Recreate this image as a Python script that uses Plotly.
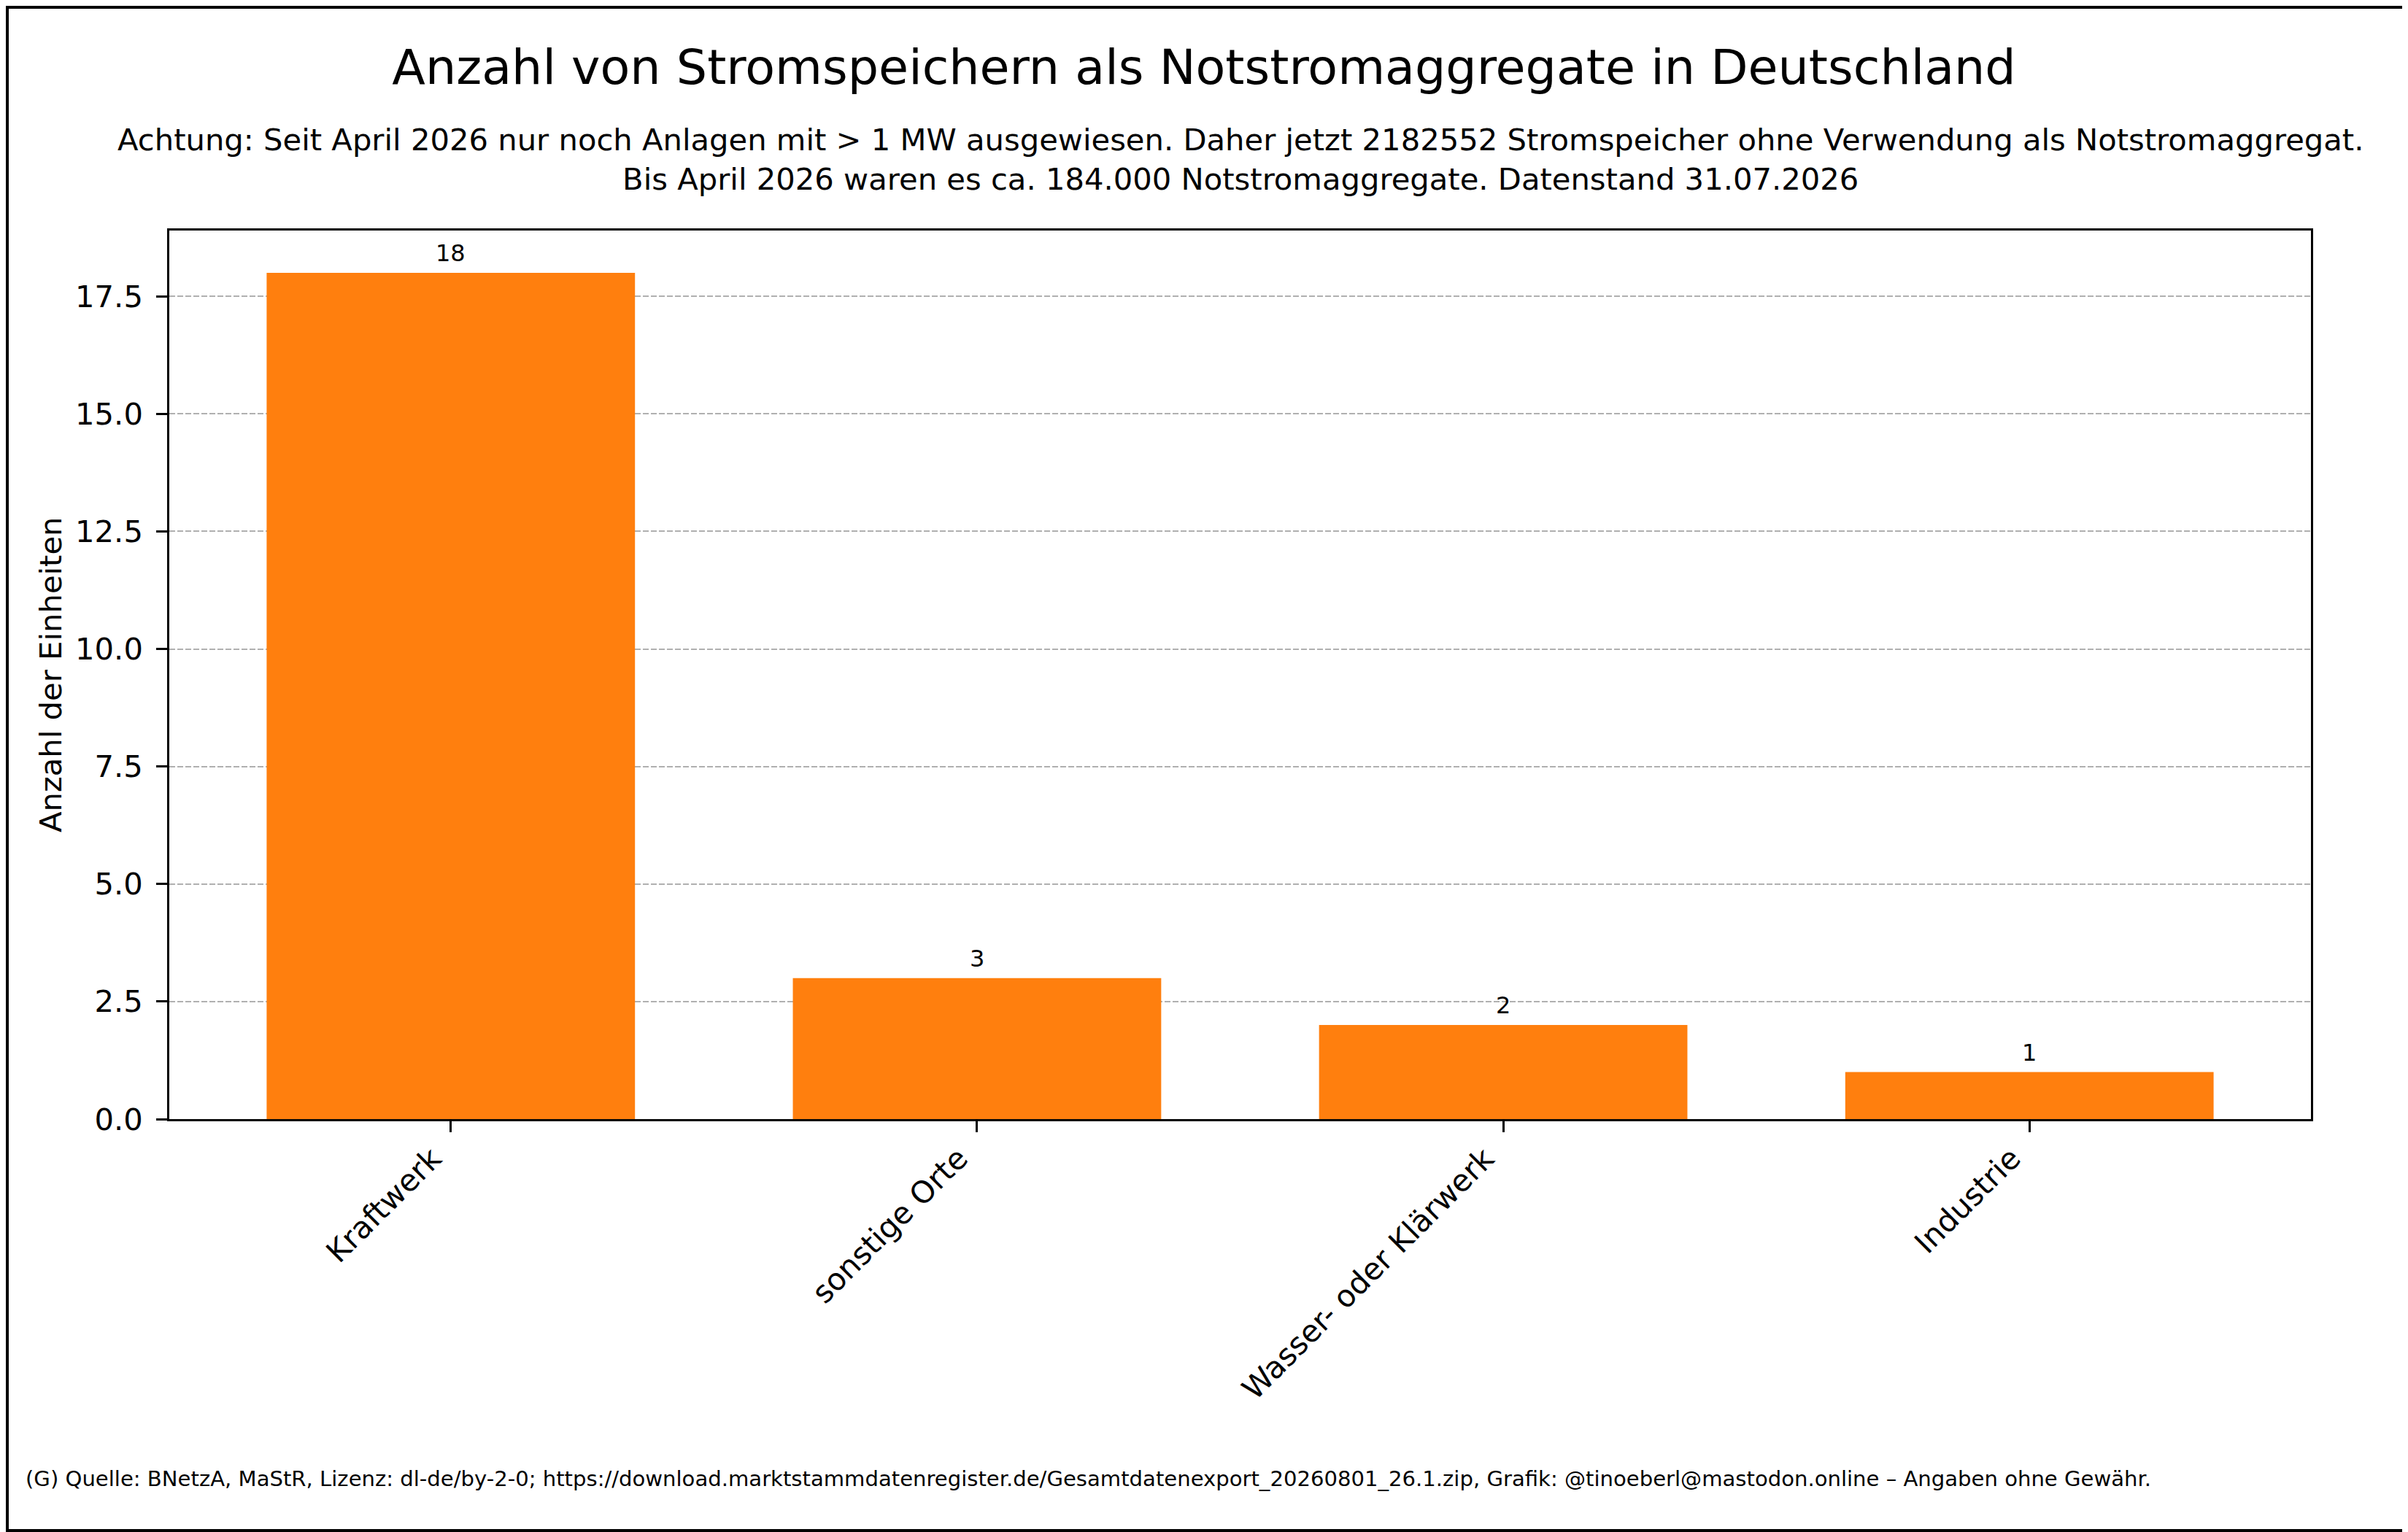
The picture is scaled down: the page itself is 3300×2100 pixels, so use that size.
"""
Notstromaggregate bar chart.

Anzahl der Stromspeicher, die als Notstromaggregat eingesetzt werden,
nach Standort (MaStR export).
"""

import plotly.graph_objects as go

# data
categories = ["Kraftwerk", "sonstige Orte", "Wasser- oder Klärwerk", "Industrie"]
counts = [18, 3, 2, 1]
y_ticks = [0.0, 2.5, 5.0, 7.5, 10.0, 12.5, 15.0, 17.5]

title_text = "Anzahl von Stromspeichern als Notstromaggregate in Deutschland"
subtitle_lines = [
    "Achtung: Seit April 2026 nur noch Anlagen mit > 1 MW ausgewiesen. "
    "Daher jetzt 2182552 Stromspeicher ohne Verwendung als Notstromaggregat.",
    "Bis April 2026 waren es ca. 184.000 Notstromaggregate. Datenstand 31.07.2026",
]
footer_text = (
    "(G) Quelle: BNetzA, MaStR, Lizenz: dl-de/by-2-0; "
    "https://download.marktstammdatenregister.de/Gesamtdatenexport_20260801_26.1.zip, "
    "Grafik: @tinoeberl@mastodon.online – Angaben ohne Gewähr."
)

# page geometry (px). the browser puts an 8px body margin in front of the
# figure, so the figure is a bit smaller and everything is shifted by OFF
OFF = 8
W, H = 3300 - OFF, 2100 - OFF
ML, MR, MT, MB = 232 - OFF, 133, 316 - OFF, 566
PW, PH = W - ML - MR, H - MT - MB
FONT = "DejaVu Sans"


def px_x(x):
    # screen pixel -> paper x
    return (x - OFF - ML) / PW


def px_y(y):
    # screen pixel (from top) -> paper y
    return (H - MB - (y - OFF)) / PH


fig = go.Figure()

fig.add_trace(go.Bar(
    x=categories,
    y=counts,
    width=0.7,
    marker=dict(color="#ff7f0e", line=dict(width=0)),
    showlegend=False,
))

# value labels above the bars
for cat, val in zip(categories, counts):
    fig.add_annotation(
        x=cat, y=val, text=str(val),
        xref="x", yref="y",
        yanchor="bottom", yshift=6,
        showarrow=False,
        font=dict(family=FONT, size=32, color="black"),
    )

# rotated category labels, right edge at the tick (like ha="right")
for cat in categories:
    fig.add_annotation(
        x=cat, y=0, text=cat,
        xref="x", yref="paper",
        textangle=-45, xanchor="right", yanchor="top", yshift=-26,
        showarrow=False,
        font=dict(family=FONT, size=41.7, color="black"),
    )

# subtitle
fig.add_annotation(
    x=0.5, y=px_y(219), xref="paper", yref="paper",
    text="<br>".join(subtitle_lines),
    showarrow=False, xanchor="center", yanchor="middle", align="center",
    font=dict(family=FONT, size=41.7, color="black"),
)

# y axis label
fig.add_annotation(
    x=px_x(69), y=0.5, xref="paper", yref="paper",
    text="Anzahl der Einheiten", textangle=-90,
    showarrow=False, xanchor="center", yanchor="middle",
    font=dict(family=FONT, size=41.7, color="black"),
)

# footer
fig.add_annotation(
    x=px_x(33), y=px_y(2027), xref="paper", yref="paper",
    text=footer_text,
    showarrow=False, xanchor="left", yanchor="middle", align="left",
    font=dict(family=FONT, size=29.1, color="black"),
)

# black frame around the whole figure
fig.add_shape(
    type="rect", xref="paper", yref="paper",
    x0=px_x(OFF + 2), x1=px_x(3300 - 2), y0=px_y(2100 - 2), y1=px_y(OFF + 2),
    line=dict(color="black", width=4), fillcolor="rgba(0,0,0,0)",
    layer="above",
)

fig.update_layout(
    width=W, height=H,
    margin=dict(l=ML, r=MR, t=MT, b=MB, autoexpand=False),
    paper_bgcolor="white",
    plot_bgcolor="white",
    font=dict(family=FONT, size=41.7, color="black"),
    title=dict(
        text=title_text,
        x=(1650 - OFF) / W, xref="container", xanchor="center",
        y=1 - (92 - OFF) / H, yref="container", yanchor="middle",
        font=dict(family=FONT, size=66.7, color="black"),
    ),
    bargap=0.3,
)

fig.update_xaxes(
    range=[-0.535, 3.535],
    showticklabels=False,
    ticks="outside", ticklen=14.6, tickwidth=3.3, tickcolor="black",
    showline=True, linecolor="black", linewidth=3.3, mirror=True,
    showgrid=False, zeroline=False,
)

fig.update_yaxes(
    range=[0, 18.9],
    tickvals=y_ticks,
    ticktext=[f"{v:.1f}" for v in y_ticks],
    ticks="outside", ticklen=14.6, tickwidth=3.3, tickcolor="black",
    ticklabelstandoff=10,
    showline=True, linecolor="black", linewidth=3.3, mirror=True,
    showgrid=True, gridcolor="#b0b0b0", gridwidth=2, griddash="8px,3px",
    zeroline=False,
    tickfont=dict(family=FONT, size=41.7, color="black"),
)

fig.write_html("out.html")
